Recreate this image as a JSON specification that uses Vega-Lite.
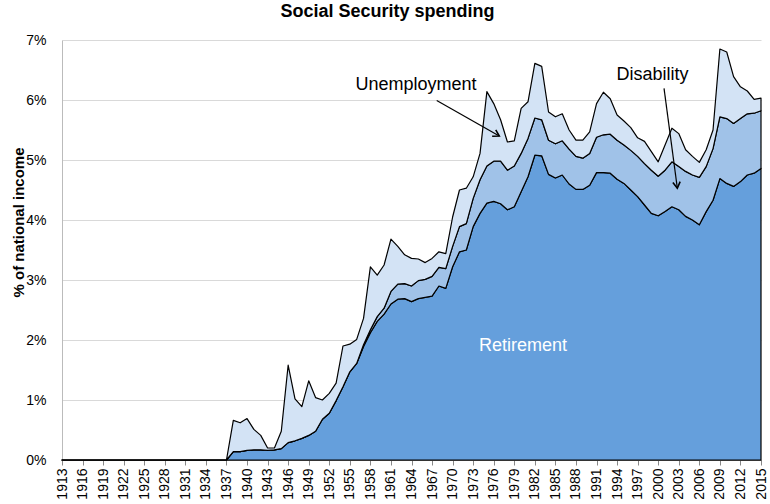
{
  "$schema": "https://vega.github.io/schema/vega-lite/v6.json",
  "width": 699,
  "height": 420,
  "autosize": {"type": "none"},
  "padding": {"left": 62, "top": 40, "right": 9, "bottom": 44},
  "background": "white",
  "title": {"text": "Social Security spending", "fontSize": 18, "font": "Liberation Sans", "fontWeight": "bold", "anchor": "middle", "dx": -24, "offset": 12, "color": "black"},
  "config": {
    "view": {"stroke": null},
    "font": "Liberation Sans",
    "axis": {"labelFont": "Liberation Sans", "titleFont": "Liberation Sans", "labelColor": "black", "titleColor": "black"}
  },
  "datasets": {
    "layers": [
      {"series": "Retirement", "rank": 1},
      {"series": "Disability", "rank": 2},
      {"series": "Unemployment", "rank": 3}
    ],
    "spending": [
      {"year": 1913, "Retirement": 0, "Disability": 0, "Unemployment": 0},
      {"year": 1914, "Retirement": 0, "Disability": 0, "Unemployment": 0},
      {"year": 1915, "Retirement": 0, "Disability": 0, "Unemployment": 0},
      {"year": 1916, "Retirement": 0, "Disability": 0, "Unemployment": 0},
      {"year": 1917, "Retirement": 0, "Disability": 0, "Unemployment": 0},
      {"year": 1918, "Retirement": 0, "Disability": 0, "Unemployment": 0},
      {"year": 1919, "Retirement": 0, "Disability": 0, "Unemployment": 0},
      {"year": 1920, "Retirement": 0, "Disability": 0, "Unemployment": 0},
      {"year": 1921, "Retirement": 0, "Disability": 0, "Unemployment": 0},
      {"year": 1922, "Retirement": 0, "Disability": 0, "Unemployment": 0},
      {"year": 1923, "Retirement": 0, "Disability": 0, "Unemployment": 0},
      {"year": 1924, "Retirement": 0, "Disability": 0, "Unemployment": 0},
      {"year": 1925, "Retirement": 0, "Disability": 0, "Unemployment": 0},
      {"year": 1926, "Retirement": 0, "Disability": 0, "Unemployment": 0},
      {"year": 1927, "Retirement": 0, "Disability": 0, "Unemployment": 0},
      {"year": 1928, "Retirement": 0, "Disability": 0, "Unemployment": 0},
      {"year": 1929, "Retirement": 0, "Disability": 0, "Unemployment": 0},
      {"year": 1930, "Retirement": 0, "Disability": 0, "Unemployment": 0},
      {"year": 1931, "Retirement": 0, "Disability": 0, "Unemployment": 0},
      {"year": 1932, "Retirement": 0, "Disability": 0, "Unemployment": 0},
      {"year": 1933, "Retirement": 0, "Disability": 0, "Unemployment": 0},
      {"year": 1934, "Retirement": 0, "Disability": 0, "Unemployment": 0},
      {"year": 1935, "Retirement": 0, "Disability": 0, "Unemployment": 0},
      {"year": 1936, "Retirement": 0, "Disability": 0, "Unemployment": 0},
      {"year": 1937, "Retirement": 0, "Disability": 0, "Unemployment": 0},
      {"year": 1938, "Retirement": 0.14, "Disability": 0, "Unemployment": 0.52},
      {"year": 1939, "Retirement": 0.14, "Disability": 0, "Unemployment": 0.48},
      {"year": 1940, "Retirement": 0.16, "Disability": 0, "Unemployment": 0.53},
      {"year": 1941, "Retirement": 0.17, "Disability": 0, "Unemployment": 0.34},
      {"year": 1942, "Retirement": 0.17, "Disability": 0, "Unemployment": 0.24},
      {"year": 1943, "Retirement": 0.16, "Disability": 0, "Unemployment": 0.04},
      {"year": 1944, "Retirement": 0.17, "Disability": 0, "Unemployment": 0.03},
      {"year": 1945, "Retirement": 0.19, "Disability": 0, "Unemployment": 0.29},
      {"year": 1946, "Retirement": 0.29, "Disability": 0, "Unemployment": 1.29},
      {"year": 1947, "Retirement": 0.32, "Disability": 0, "Unemployment": 0.70},
      {"year": 1948, "Retirement": 0.36, "Disability": 0, "Unemployment": 0.53},
      {"year": 1949, "Retirement": 0.41, "Disability": 0, "Unemployment": 0.91},
      {"year": 1950, "Retirement": 0.48, "Disability": 0, "Unemployment": 0.56},
      {"year": 1951, "Retirement": 0.68, "Disability": 0, "Unemployment": 0.32},
      {"year": 1952, "Retirement": 0.78, "Disability": 0, "Unemployment": 0.33},
      {"year": 1953, "Retirement": 0.99, "Disability": 0, "Unemployment": 0.29},
      {"year": 1954, "Retirement": 1.22, "Disability": 0, "Unemployment": 0.68},
      {"year": 1955, "Retirement": 1.47, "Disability": 0, "Unemployment": 0.46},
      {"year": 1956, "Retirement": 1.61, "Disability": 0, "Unemployment": 0.40},
      {"year": 1957, "Retirement": 1.89, "Disability": 0.03, "Unemployment": 0.44},
      {"year": 1958, "Retirement": 2.12, "Disability": 0.05, "Unemployment": 1.05},
      {"year": 1959, "Retirement": 2.31, "Disability": 0.08, "Unemployment": 0.69},
      {"year": 1960, "Retirement": 2.43, "Disability": 0.10, "Unemployment": 0.72},
      {"year": 1961, "Retirement": 2.60, "Disability": 0.21, "Unemployment": 0.87},
      {"year": 1962, "Retirement": 2.68, "Disability": 0.25, "Unemployment": 0.63},
      {"year": 1963, "Retirement": 2.69, "Disability": 0.25, "Unemployment": 0.48},
      {"year": 1964, "Retirement": 2.64, "Disability": 0.26, "Unemployment": 0.46},
      {"year": 1965, "Retirement": 2.69, "Disability": 0.30, "Unemployment": 0.36},
      {"year": 1966, "Retirement": 2.71, "Disability": 0.30, "Unemployment": 0.28},
      {"year": 1967, "Retirement": 2.73, "Disability": 0.33, "Unemployment": 0.30},
      {"year": 1968, "Retirement": 2.90, "Disability": 0.31, "Unemployment": 0.26},
      {"year": 1969, "Retirement": 2.86, "Disability": 0.33, "Unemployment": 0.25},
      {"year": 1970, "Retirement": 3.22, "Disability": 0.34, "Unemployment": 0.49},
      {"year": 1971, "Retirement": 3.47, "Disability": 0.42, "Unemployment": 0.61},
      {"year": 1972, "Retirement": 3.50, "Disability": 0.44, "Unemployment": 0.59},
      {"year": 1973, "Retirement": 3.89, "Disability": 0.47, "Unemployment": 0.36},
      {"year": 1974, "Retirement": 4.11, "Disability": 0.56, "Unemployment": 0.44},
      {"year": 1975, "Retirement": 4.28, "Disability": 0.62, "Unemployment": 1.24},
      {"year": 1976, "Retirement": 4.31, "Disability": 0.67, "Unemployment": 0.96},
      {"year": 1977, "Retirement": 4.27, "Disability": 0.71, "Unemployment": 0.69},
      {"year": 1978, "Retirement": 4.17, "Disability": 0.66, "Unemployment": 0.47},
      {"year": 1979, "Retirement": 4.22, "Disability": 0.68, "Unemployment": 0.42},
      {"year": 1980, "Retirement": 4.47, "Disability": 0.64, "Unemployment": 0.75},
      {"year": 1981, "Retirement": 4.72, "Disability": 0.64, "Unemployment": 0.61},
      {"year": 1982, "Retirement": 5.08, "Disability": 0.62, "Unemployment": 0.91},
      {"year": 1983, "Retirement": 5.07, "Disability": 0.60, "Unemployment": 0.89},
      {"year": 1984, "Retirement": 4.76, "Disability": 0.57, "Unemployment": 0.47},
      {"year": 1985, "Retirement": 4.70, "Disability": 0.57, "Unemployment": 0.45},
      {"year": 1986, "Retirement": 4.75, "Disability": 0.57, "Unemployment": 0.45},
      {"year": 1987, "Retirement": 4.60, "Disability": 0.58, "Unemployment": 0.32},
      {"year": 1988, "Retirement": 4.51, "Disability": 0.55, "Unemployment": 0.27},
      {"year": 1989, "Retirement": 4.51, "Disability": 0.52, "Unemployment": 0.30},
      {"year": 1990, "Retirement": 4.58, "Disability": 0.53, "Unemployment": 0.36},
      {"year": 1991, "Retirement": 4.79, "Disability": 0.59, "Unemployment": 0.56},
      {"year": 1992, "Retirement": 4.79, "Disability": 0.63, "Unemployment": 0.71},
      {"year": 1993, "Retirement": 4.78, "Disability": 0.65, "Unemployment": 0.59},
      {"year": 1994, "Retirement": 4.68, "Disability": 0.65, "Unemployment": 0.42},
      {"year": 1995, "Retirement": 4.61, "Disability": 0.64, "Unemployment": 0.40},
      {"year": 1996, "Retirement": 4.50, "Disability": 0.66, "Unemployment": 0.38},
      {"year": 1997, "Retirement": 4.39, "Disability": 0.67, "Unemployment": 0.31},
      {"year": 1998, "Retirement": 4.25, "Disability": 0.69, "Unemployment": 0.37},
      {"year": 1999, "Retirement": 4.11, "Disability": 0.72, "Unemployment": 0.31},
      {"year": 2000, "Retirement": 4.07, "Disability": 0.66, "Unemployment": 0.24},
      {"year": 2001, "Retirement": 4.14, "Disability": 0.69, "Unemployment": 0.42},
      {"year": 2002, "Retirement": 4.22, "Disability": 0.75, "Unemployment": 0.56},
      {"year": 2003, "Retirement": 4.17, "Disability": 0.72, "Unemployment": 0.55},
      {"year": 2004, "Retirement": 4.06, "Disability": 0.75, "Unemployment": 0.36},
      {"year": 2005, "Retirement": 4.00, "Disability": 0.75, "Unemployment": 0.31},
      {"year": 2006, "Retirement": 3.92, "Disability": 0.79, "Unemployment": 0.25},
      {"year": 2007, "Retirement": 4.14, "Disability": 0.75, "Unemployment": 0.28},
      {"year": 2008, "Retirement": 4.33, "Disability": 0.86, "Unemployment": 0.31},
      {"year": 2009, "Retirement": 4.69, "Disability": 1.03, "Unemployment": 1.13},
      {"year": 2010, "Retirement": 4.61, "Disability": 1.08, "Unemployment": 1.11},
      {"year": 2011, "Retirement": 4.56, "Disability": 1.05, "Unemployment": 0.78},
      {"year": 2012, "Retirement": 4.64, "Disability": 1.05, "Unemployment": 0.53},
      {"year": 2013, "Retirement": 4.75, "Disability": 1.02, "Unemployment": 0.38},
      {"year": 2014, "Retirement": 4.78, "Disability": 1.00, "Unemployment": 0.23},
      {"year": 2015, "Retirement": 4.86, "Disability": 0.96, "Unemployment": 0.21}
    ]
  },
  "layer": [
    {
      "data": {"name": "spending"},
      "transform": [
        {"fold": ["Retirement", "Disability", "Unemployment"], "as": ["series", "value"]},
        {"lookup": "series", "from": {"data": {"name": "layers"}, "key": "series", "fields": ["rank"]}}
      ],
      "mark": {"type": "area", "stroke": "black", "strokeWidth": 1.2, "strokeJoin": "round", "fillOpacity": 1},
      "encoding": {
        "x": {
          "field": "year", "type": "quantitative",
          "scale": {"domain": [1913, 2015], "nice": false, "zero": false},
          "axis": {
            "values": [1913, 1916, 1919, 1922, 1925, 1928, 1931, 1934, 1937, 1940, 1943, 1946, 1949, 1952, 1955, 1958, 1961, 1964, 1967, 1970, 1973, 1976, 1979, 1982, 1985, 1988, 1991, 1994, 1997, 2000, 2003, 2006, 2009, 2012, 2015],
            "tickCount": 60,
            "format": "d", "labelAngle": -90, "labelFontSize": 14, "labelPadding": 3, "tickSize": 5,
            "tickColor": "#888888", "domainColor": "#666666", "grid": false, "title": null,
            "labelOverlap": false, "labelFlush": false, "labelBound": false
          }
        },
        "y": {
          "field": "value", "type": "quantitative", "stack": "zero",
          "scale": {"domain": [0, 7], "nice": false},
          "axis": {
            "values": [0, 1, 2, 3, 4, 5, 6, 7], "labelExpr": "datum.value + '%'", "labelFontSize": 14,
            "labelPadding": 16, "ticks": false, "domainColor": "#bbbbbb", "gridColor": "#d9d9d9",
            "title": "% of national income", "titleFontSize": 15, "titleFontWeight": "bold",
            "titleX": -44, "titleY": 182, "titleAngle": -90, "titleAlign": "center", "titleBaseline": "middle"
          }
        },
        "color": {
          "field": "series", "type": "nominal",
          "scale": {"domain": ["Retirement", "Disability", "Unemployment"], "range": ["#659fdc", "#a0c2e8", "#d3e3f5"]},
          "legend": null
        },
        "order": {"field": "rank", "type": "quantitative", "sort": "ascending"}
      }
    },
    {
      "data": {"values": [{}]},
      "mark": {"type": "text", "fontSize": 18, "font": "Liberation Sans", "color": "black", "align": "center", "baseline": "middle"},
      "encoding": {
        "x": {"datum": 1964.65, "type": "quantitative", "scale": {"domain": [1913, 2015], "nice": false, "zero": false}},
        "y": {"datum": 6.25, "type": "quantitative", "scale": {"domain": [0, 7], "nice": false}},
        "text": {"value": "Unemployment"}
      }
    },
    {
      "data": {"values": [{}]},
      "mark": {"type": "text", "fontSize": 18, "font": "Liberation Sans", "color": "black", "align": "center", "baseline": "middle"},
      "encoding": {
        "x": {"datum": 1999.16, "type": "quantitative", "scale": {"domain": [1913, 2015], "nice": false, "zero": false}},
        "y": {"datum": 6.42, "type": "quantitative", "scale": {"domain": [0, 7], "nice": false}},
        "text": {"value": "Disability"}
      }
    },
    {
      "data": {"values": [{}]},
      "mark": {"type": "text", "fontSize": 18, "font": "Liberation Sans", "color": "white", "align": "center", "baseline": "middle"},
      "encoding": {
        "x": {"datum": 1980.27, "type": "quantitative", "scale": {"domain": [1913, 2015], "nice": false, "zero": false}},
        "y": {"datum": 1.9, "type": "quantitative", "scale": {"domain": [0, 7], "nice": false}},
        "text": {"value": "Retirement"}
      }
    },
    {
      "data": {"values": [{}]},
      "mark": {"type": "rule", "color": "black", "strokeWidth": 1.2},
      "encoding": {
        "x": {"datum": 1967.68, "type": "quantitative", "scale": {"domain": [1913, 2015], "nice": false, "zero": false}},
        "y": {"datum": 5.99, "type": "quantitative", "scale": {"domain": [0, 7], "nice": false}},
        "x2": {"datum": 1976.81},
        "y2": {"datum": 5.40}
      }
    },
    {
      "data": {"values": [{}]},
      "mark": {"type": "rule", "color": "black", "strokeWidth": 1.2},
      "encoding": {
        "x": {"datum": 2000.85, "type": "quantitative", "scale": {"domain": [1913, 2015], "nice": false, "zero": false}},
        "y": {"datum": 6.195, "type": "quantitative", "scale": {"domain": [0, 7], "nice": false}},
        "x2": {"datum": 2002.79},
        "y2": {"datum": 4.53}
      }
    },
    {
      "data": {"values": [{}]},
      "mark": {"type": "point", "shape": "M -0.6 -1 L 0 0 L 0.6 -1", "size": 150, "angle": 299.4, "filled": false, "stroke": "black", "strokeWidth": 1.6, "opacity": 1},
      "encoding": {
        "x": {"datum": 1976.81, "type": "quantitative", "scale": {"domain": [1913, 2015], "nice": false, "zero": false}},
        "y": {"datum": 5.40, "type": "quantitative", "scale": {"domain": [0, 7], "nice": false}}
      }
    },
    {
      "data": {"values": [{}]},
      "mark": {"type": "point", "shape": "M -0.6 -1 L 0 0 L 0.6 -1", "size": 150, "angle": 352.4, "filled": false, "stroke": "black", "strokeWidth": 1.6, "opacity": 1},
      "encoding": {
        "x": {"datum": 2002.79, "type": "quantitative", "scale": {"domain": [1913, 2015], "nice": false, "zero": false}},
        "y": {"datum": 4.53, "type": "quantitative", "scale": {"domain": [0, 7], "nice": false}}
      }
    }
  ]
}
